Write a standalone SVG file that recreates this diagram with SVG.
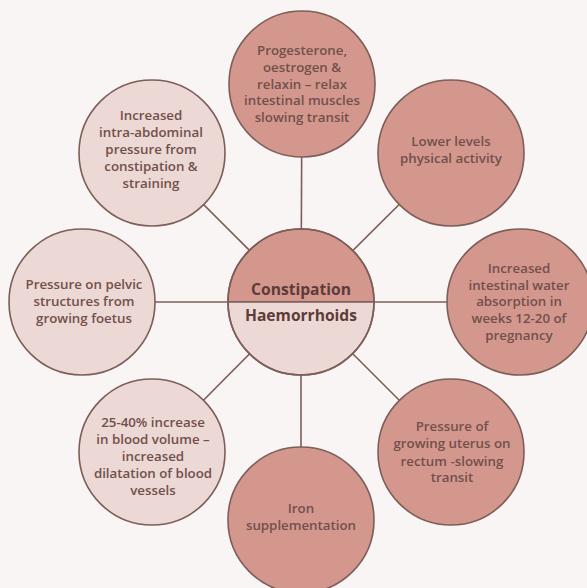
<svg xmlns="http://www.w3.org/2000/svg" width="587" height="588" viewBox="0 0 587 588">
<style>
.bg{fill:#f9f5f4}
.dark{fill:#d4978e;stroke:#7d5e59;stroke-width:1.6}
.light{fill:#ecd8d4;stroke:#7d5e59;stroke-width:1.6}
.spoke{stroke:#7d5e59;stroke-width:1.6;fill:none}
text{font-family:"Open Sans",Lato,"Liberation Sans",sans-serif;font-weight:600;font-size:13.3px;fill:#71504b;text-anchor:middle}
.hub{font-size:15.6px;font-weight:bold;fill:#5c3c38}
</style>
<rect class="bg" x="0" y="0" width="587" height="588"/>
<g id="connectors">
<line class="spoke" x1="301" y1="302" x2="302" y2="84"/>
<line class="spoke" x1="301" y1="302" x2="451" y2="153"/>
<line class="spoke" x1="301" y1="302" x2="520" y2="302"/>
<line class="spoke" x1="301" y1="302" x2="451" y2="452"/>
<line class="spoke" x1="301" y1="302" x2="301" y2="520"/>
<line class="spoke" x1="301" y1="302" x2="152" y2="452"/>
<line class="spoke" x1="301" y1="302" x2="82" y2="302"/>
<line class="spoke" x1="301" y1="302" x2="152" y2="153"/>
</g>
<g id="n-top">
<circle class="dark" cx="302" cy="84" r="73"/>
<text x="302" y="55">Progesterone,</text>
<text x="302" y="72">oestrogen &amp;</text>
<text x="302" y="88.5">relaxin – relax</text>
<text x="302" y="105">intestinal muscles</text>
<text x="302" y="122">slowing transit</text>
</g>
<g id="n-topright">
<circle class="dark" cx="451" cy="153" r="73"/>
<text x="451" y="146">Lower levels</text>
<text x="451" y="163">physical activity</text>
</g>
<g id="n-right">
<circle class="dark" cx="520" cy="302" r="73"/>
<text x="519" y="272.5">Increased</text>
<text x="519" y="289.5">intestinal water</text>
<text x="519" y="306">absorption in</text>
<text x="519" y="323">weeks 12-20 of</text>
<text x="519" y="340">pregnancy</text>
</g>
<g id="n-bottomright">
<circle class="dark" cx="451" cy="452" r="73"/>
<text x="452" y="431">Pressure of</text>
<text x="452" y="448">growing uterus on</text>
<text x="452" y="465.5">rectum -slowing</text>
<text x="452" y="482">transit</text>
</g>
<g id="n-bottom">
<circle class="dark" cx="301" cy="520" r="73"/>
<text x="301" y="512.5">Iron</text>
<text x="301" y="530">supplementation</text>
</g>
<g id="n-bottomleft">
<circle class="light" cx="152" cy="452" r="73"/>
<text x="153" y="426.5">25-40% increase</text>
<text x="153" y="443.5">in blood volume –</text>
<text x="153" y="461">increased</text>
<text x="153" y="478">dilatation of blood</text>
<text x="153" y="495">vessels</text>
</g>
<g id="n-left">
<circle class="light" cx="82" cy="302" r="73"/>
<text x="84" y="289">Pressure on pelvic</text>
<text x="84" y="306">structures from</text>
<text x="84" y="323">growing foetus</text>
</g>
<g id="n-topleft">
<circle class="light" cx="152" cy="153" r="73"/>
<text x="151" y="119.5">Increased</text>
<text x="151" y="136.5">intra-abdominal</text>
<text x="151" y="153.5">pressure from</text>
<text x="151" y="170.5">constipation &amp;</text>
<text x="151" y="188">straining</text>
</g>
<g id="n-center">
<path class="dark" d="M228,302 A73,73 0 0 1 374,302 Z"/>
<path class="light" d="M228,302 A73,73 0 0 0 374,302 Z"/>
<circle cx="301" cy="302" r="73" fill="none" stroke="#7d5e59" stroke-width="1.6"/>
<text class="hub" x="301" y="295">Constipation</text>
<text class="hub" x="301" y="321">Haemorrhoids</text>
</g>
</svg>
